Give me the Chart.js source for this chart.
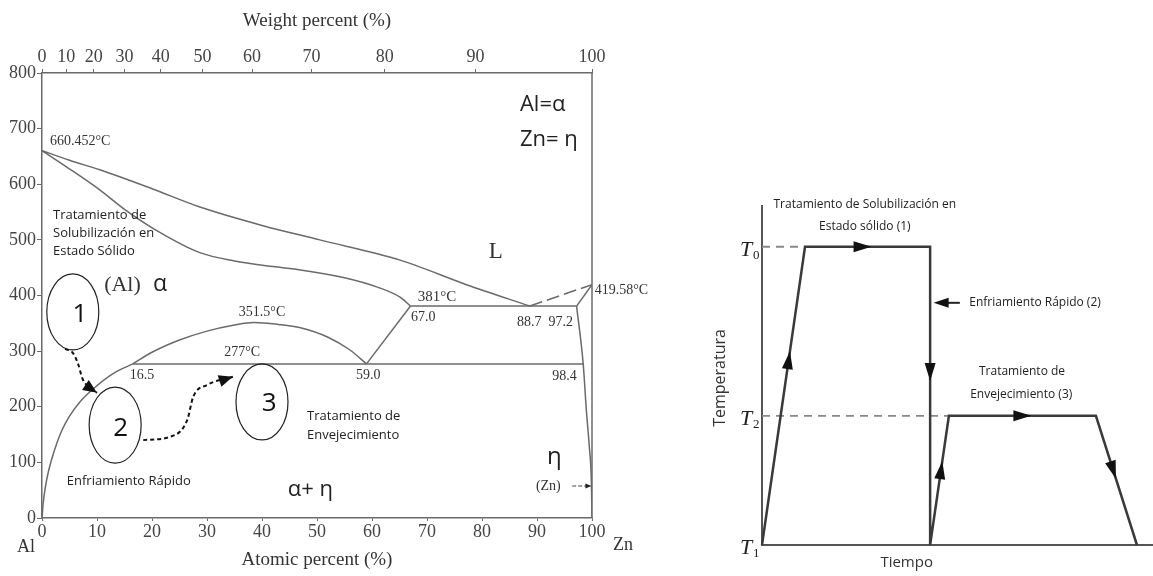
<!DOCTYPE html>
<html>
<head>
<meta charset="utf-8">
<script src="https://cdn.jsdelivr.net/npm/chart.js@4.4.1/dist/chart.umd.min.js"></script>
<style>
html, body { margin: 0; padding: 0; background: #fff; width: 1153px; height: 576px; overflow: hidden; }
#phase { position: absolute; left: 0; top: 0; }
#ciclo { position: absolute; left: 660px; top: 0; }
</style>
</head>
<body>
<canvas id="phase" width="660" height="576"></canvas>
<canvas id="ciclo" width="493" height="576"></canvas>
<script>
// ---- diagrama Al-Zn (x = % atómico Zn, y = °C) ----
const liquidus = [[0, 660.45], [5, 643], [10.5, 626], [20, 592], [28.7, 559], [40, 526], [50.5, 500], [65, 464], [77.3, 419], [88.7, 381]];
const solidusAl = [[0, 660.45], [4.5, 631], [10.5, 590], [15, 555], [21.5, 513], [28.7, 477], [35, 462], [42, 452], [47, 446], [55, 432], [61, 415], [65.1, 397], [67, 381]];
const solvusAl = [[0, 0], [0.2, 25], [0.6, 55], [1.2, 85], [2.2, 120], [3.5, 155], [5, 183], [7, 210], [10, 238], [13, 260], [16.5, 277]];
const domo = [[16.5, 277], [20, 298], [25, 320], [30, 336], [35, 347], [38.5, 351.5], [43, 348], [47, 342], [52, 325], [56, 302], [59, 277]];
const eutectoide = [[16.5, 277], [98.4, 277]];
const monotectico = [[67, 381], [97.2, 381]];
const alfaPrima = [[67, 381], [59, 277]];
const liquidusZn = [[88.7, 381], [100, 419.58]];
const solidusZn = [[97.2, 381], [100, 419.58]];
const solvusZn = [[97.2, 381], [98.4, 277], [99.0, 190], [99.5, 130], [99.9, 60], [100, 0]];
const flecha1 = [[4.2, 304], [5.6, 297], [6.6, 276], [7.3, 252], [8.5, 235], [10, 225]];
const flecha2 = [[18.4, 140], [23.3, 146], [26.4, 176], [27.5, 218], [30, 239], [34.7, 254]];

const atomicTicks = [0, 10, 20, 30, 40, 50, 60, 70, 80, 90, 100];
const weightTickPos = [0, 4.4, 9.4, 15.0, 21.6, 29.2, 38.2, 49.0, 62.3, 78.8, 100];
const weightTickLabels = ['0', '10', '20', '30', '40', '50', '60', '70', '80', '90', '100'];
const tempTicks = [0, 100, 200, 300, 400, 500, 600, 700, 800];

// ---- ciclo de tratamiento (tiempo / temperatura, unidades arbitrarias) ----
const tiempo = [0, 11, 43, 43, 47.8, 85.4, 95.9];
const temperatura = [0, 100, 100, 0, 43.3, 43.3, 0];
const nivelT0 = 100, nivelT2 = 43.3;
const flechaSeg = [0, 1, 2, 3, 4, 5];
const flechaFrac = [0.62, 0.46, 0.42, 0.58, 0.5, 0.42];

const GRIS = '#6a6a6a';
const SERIF = '"Liberation Serif", "DejaVu Serif", serif';
const SANS = '"Open Sans", "Liberation Sans", sans-serif';
const NARROW = '"Liberation Sans Narrow", "Open Sans", sans-serif';

const pts = a => a.map(p => ({ x: p[0], y: p[1] }));
const curva = (a, extra) => Object.assign({ data: pts(a), showLine: true, pointRadius: 0, borderColor: GRIS, borderWidth: 1.5, cubicInterpolationMode: 'monotone' }, extra || {});
const recta = (a, extra) => curva(a, Object.assign({ cubicInterpolationMode: 'default', tension: 0 }, extra || {}));

function punta(ctx, x1, y1, x2, y2, len, w) {
    const a = Math.atan2(y2 - y1, x2 - x1);
    ctx.beginPath();
    ctx.moveTo(x2, y2);
    ctx.lineTo(x2 - len * Math.cos(a) + w / 2 * Math.sin(a), y2 - len * Math.sin(a) - w / 2 * Math.cos(a));
    ctx.lineTo(x2 - len * Math.cos(a) - w / 2 * Math.sin(a), y2 - len * Math.sin(a) + w / 2 * Math.cos(a));
    ctx.closePath();
    ctx.fill();
}

const decoFase = {
    id: 'decoFase',
    afterDatasetsDraw(chart) {
        const ctx = chart.ctx, xs = chart.scales.x, ys = chart.scales.y, ca = chart.chartArea;
        const X = v => xs.getPixelForValue(v), Y = v => ys.getPixelForValue(v);
        ctx.save();
        // borde derecho
        ctx.strokeStyle = GRIS; ctx.lineWidth = 1.5;
        ctx.beginPath(); ctx.moveTo(ca.right, ca.top); ctx.lineTo(ca.right, ca.bottom); ctx.stroke();

        // elipses
        ctx.strokeStyle = '#222'; ctx.lineWidth = 1.2;
        [[5.6, 370.5], [13.3, 167], [40, 208.6]].forEach(e => {
            ctx.beginPath(); ctx.ellipse(X(e[0]), Y(e[1]), 26, 38, 0, 0, Math.PI * 2); ctx.stroke();
        });
        // puntas de flechas discontinuas
        ctx.fillStyle = '#111';
        [flecha1, flecha2].forEach(f => {
            const a = f[f.length - 2], b = f[f.length - 1];
            punta(ctx, X(a[0]), Y(a[1]), X(b[0]), Y(b[1]), 14, 12);
        });

        const t = (s, x, y, font, align, color) => {
            ctx.font = font; ctx.textAlign = align || 'left'; ctx.textBaseline = 'middle';
            ctx.fillStyle = color || '#333'; ctx.fillText(s, X(x), Y(y));
        };
        t('1', 6.9, 365, '26px ' + SANS, 'center', '#111');
        t('2', 14.3, 160, '26px ' + SANS, 'center', '#111');
        t('3', 41.3, 205, '26px ' + SANS, 'center', '#111');

        t('660.452°C', 1.45, 678, '14px ' + SERIF);
        t('(Al)', 11.3, 419, '22px ' + SERIF);
        t('α', 20.2, 419, '23px ' + SANS, 'left', '#222');
        t('351.5°C', 40, 370.5, '14px ' + SERIF, 'center');
        t('277°C', 36.4, 297, '14px ' + SERIF, 'center');
        t('16.5', 18.2, 257, '14px ' + SERIF, 'center');
        t('59.0', 59.3, 257, '14px ' + SERIF, 'center');
        t('381°C', 71.8, 397, '15px ' + SERIF, 'center');
        t('67.0', 69.3, 360, '14px ' + SERIF, 'center');
        t('88.7', 88.6, 352, '14px ' + SERIF, 'center');
        t('97.2', 94.3, 352, '14px ' + SERIF, 'center');
        t('98.4', 95, 255, '14px ' + SERIF, 'center');
        t('419.58°C', 100.5, 410, '14px ' + SERIF);
        t('L', 82.5, 478, '23px ' + SERIF, 'center');
        t('(Zn)', 89.8, 57.5, '14px ' + SERIF);
        t('Al=α', 86.9, 743, '22px ' + SANS, 'left', '#222');
        t('Zn= η', 86.9, 680, '22px ' + SANS, 'left', '#222');
        t('η', 91.8, 110, '24px ' + SANS, 'left', '#222');
        t('α+ η', 44.7, 50, '22px ' + SANS, 'left', '#222');
        ['Tratamiento de', 'Solubilización en', 'Estado Sólido'].forEach((s, i) => t(s, 2, 545 - i * 33, '13px ' + SANS, 'left', '#222'));
        ['Tratamiento de', 'Envejecimiento'].forEach((s, i) => t(s, 48.2, 182 - i * 33, '13px ' + SANS, 'left', '#222'));
        t('Enfriamiento Rápido', 4.5, 66.5, '13px ' + SANS, 'left', '#222');

        // flecha (Zn)
        ctx.strokeStyle = '#444'; ctx.lineWidth = 1.2; ctx.setLineDash([4, 2]);
        ctx.beginPath(); ctx.moveTo(X(96.4), Y(57.5)); ctx.lineTo(X(99.3), Y(57.5)); ctx.stroke();
        ctx.setLineDash([]); ctx.fillStyle = '#222';
        punta(ctx, X(98.5), Y(57.5), X(99.9), Y(57.5), 6, 5);

        ctx.font = '18px ' + SERIF; ctx.fillStyle = '#333'; ctx.textAlign = 'center'; ctx.textBaseline = 'middle';
        ctx.fillText('Al', ca.left - 16, ca.bottom + 29);
        ctx.fillText('Zn', ca.right + 31, ca.bottom + 27);
        ctx.font = '19px ' + SERIF;
        ctx.fillText('Atomic percent (%)', (ca.left + ca.right) / 2, ca.bottom + 42);
        ctx.fillText('Weight percent (%)', (ca.left + ca.right) / 2, 21);
        ctx.restore();
    }
};

const tickFont = { family: SERIF, size: 18 };
new Chart(document.getElementById('phase').getContext('2d'), {
    type: 'scatter',
    data: {
        datasets: [
            curva(liquidus), curva(solidusAl), curva(solvusAl), curva(domo),
            recta(eutectoide), recta(monotectico), recta(alfaPrima),
            recta(liquidusZn, { borderDash: [13, 5] }), recta(solidusZn), curva(solvusZn),
            curva(flecha1, { borderColor: '#111', borderWidth: 2, borderDash: [4, 3] }),
            curva(flecha2, { borderColor: '#111', borderWidth: 2, borderDash: [4, 3] })
        ]
    },
    options: {
        responsive: false,
        animation: false,
        layout: { padding: { left: 0, right: 68, top: 0, bottom: 0 } },
        plugins: { legend: { display: false }, tooltip: { enabled: false } },
        scales: {
            x: {
                type: 'linear', position: 'bottom', min: 0, max: 100,
                afterBuildTicks: s => { s.ticks = atomicTicks.map(v => ({ value: v })); },
                ticks: { autoSkip: false, maxRotation: 0, padding: 0, font: tickFont, color: '#444' },
                grid: { drawOnChartArea: false, tickLength: 3, color: GRIS },
                border: { color: GRIS, width: 1.5 },
                afterFit: s => { s.height = 58; }
            },
            x2: {
                type: 'linear', position: 'top', min: 0, max: 100,
                afterBuildTicks: s => { s.ticks = weightTickPos.map(v => ({ value: v })); },
                ticks: { autoSkip: false, maxRotation: 0, padding: 1, font: tickFont, color: '#444', callback: (v, i) => weightTickLabels[i] },
                grid: { drawOnChartArea: false, tickLength: 4, color: GRIS },
                border: { color: GRIS, width: 1.5 },
                afterFit: s => { s.height = 73; }
            },
            y: {
                min: 0, max: 800,
                afterBuildTicks: s => { s.ticks = tempTicks.map(v => ({ value: v })); },
                ticks: { padding: 1, font: tickFont, color: '#444' },
                grid: { drawOnChartArea: false, tickLength: 5, color: GRIS },
                border: { color: GRIS, width: 1.5 },
                afterFit: s => { s.width = 42; }
            }
        }
    },
    plugins: [decoFase]
});

// ---- ciclo ----
const perfil = tiempo.map((x, i) => ({ x: x, y: temperatura[i] }));

const decoCiclo = {
    id: 'decoCiclo',
    beforeDatasetsDraw(chart) {
        const ctx = chart.ctx, xs = chart.scales.x, ys = chart.scales.y, ca = chart.chartArea;
        ctx.save();
        ctx.strokeStyle = '#555'; ctx.lineWidth = 2;
        ctx.beginPath();
        ctx.moveTo(xs.getPixelForValue(0), ca.top);
        ctx.lineTo(xs.getPixelForValue(0), ys.getPixelForValue(0));
        ctx.lineTo(ca.right, ys.getPixelForValue(0));
        ctx.stroke();
        ctx.restore();
    },
    afterDatasetsDraw(chart) {
        const ctx = chart.ctx, xs = chart.scales.x, ys = chart.scales.y;
        const X = v => xs.getPixelForValue(v), Y = v => ys.getPixelForValue(v);
        ctx.save();
        ctx.fillStyle = '#111';
        flechaSeg.forEach((s, i) => {
            const f = flechaFrac[i];
            const x1 = X(tiempo[s]), y1 = Y(temperatura[s]), x2 = X(tiempo[s + 1]), y2 = Y(temperatura[s + 1]);
            const px = x1 + (x2 - x1) * f, py = y1 + (y2 - y1) * f;
            const d = Math.hypot(x2 - x1, y2 - y1);
            punta(ctx, px - (x2 - x1) / d * 9, py - (y2 - y1) / d * 9, px + (x2 - x1) / d * 9, py + (y2 - y1) / d * 9, 18, 11);
        });
        // flecha enfriamiento rápido
        ctx.strokeStyle = '#222'; ctx.lineWidth = 2;
        ctx.beginPath(); ctx.moveTo(X(50.6), Y(81.2)); ctx.lineTo(X(46), Y(81.2)); ctx.stroke();
        punta(ctx, X(47.5), Y(81.2), X(43.9), Y(81.2), 15, 10);

        const t = (s, x, y, font, align) => {
            ctx.font = font; ctx.textAlign = align || 'center'; ctx.textBaseline = 'middle';
            ctx.fillStyle = '#222'; ctx.fillText(s, X(x), Y(y));
        };
        t('Tratamiento de Solubilización en', 26.3, 114, '12px ' + NARROW);
        t('Estado sólido (1)', 26.3, 106.7, '12px ' + NARROW);
        t('Enfriamiento Rápido (2)', 53, 81.2, '12px ' + NARROW, 'left');
        t('Tratamiento de', 66.5, 58.1, '12px ' + NARROW);
        t('Envejecimiento (3)', 66.3, 50.3, '12px ' + NARROW);

        const T = (sub, y) => {
            ctx.textAlign = 'left'; ctx.textBaseline = 'middle'; ctx.fillStyle = '#222';
            ctx.font = 'italic 22px ' + SERIF; ctx.fillText('T', X(0) - 22, Y(y) + 3);
            ctx.font = '13px ' + SERIF; ctx.fillText(sub, X(0) - 9, Y(y) + 9);
        };
        T('0', nivelT0); T('2', nivelT2); T('1', 0);

        ctx.font = '15px ' + NARROW; ctx.textAlign = 'center'; ctx.fillStyle = '#333';
        ctx.fillText('Tiempo', X(37), Y(0) + 18);
        ctx.translate(X(0) - 42, Y(56));
        ctx.rotate(-Math.PI / 2);
        ctx.font = '16px ' + NARROW;
        ctx.fillText('Temperatura', 0, 0);
        ctx.restore();
    }
};

new Chart(document.getElementById('ciclo').getContext('2d'), {
    type: 'scatter',
    data: {
        datasets: [
            { data: perfil, showLine: true, tension: 0, pointRadius: 0, borderColor: '#3a3a3a', borderWidth: 2.5, clip: 6 },
            { data: [{ x: 0, y: nivelT0 }, { x: tiempo[1], y: nivelT0 }], showLine: true, pointRadius: 0, borderColor: '#888', borderWidth: 1.8, borderDash: [8, 6] },
            { data: [{ x: 0, y: nivelT2 }, { x: tiempo[4], y: nivelT2 }], showLine: true, pointRadius: 0, borderColor: '#888', borderWidth: 1.8, borderDash: [8, 6] }
        ]
    },
    options: {
        responsive: false,
        animation: false,
        layout: { padding: { left: 102, right: 0, top: 205, bottom: 31 } },
        plugins: { legend: { display: false }, tooltip: { enabled: false } },
        scales: {
            x: { type: 'linear', min: 0, max: 100, display: false },
            y: { min: 0, max: 114, display: false }
        }
    },
    plugins: [decoCiclo]
});
</script>
</body>
</html>
